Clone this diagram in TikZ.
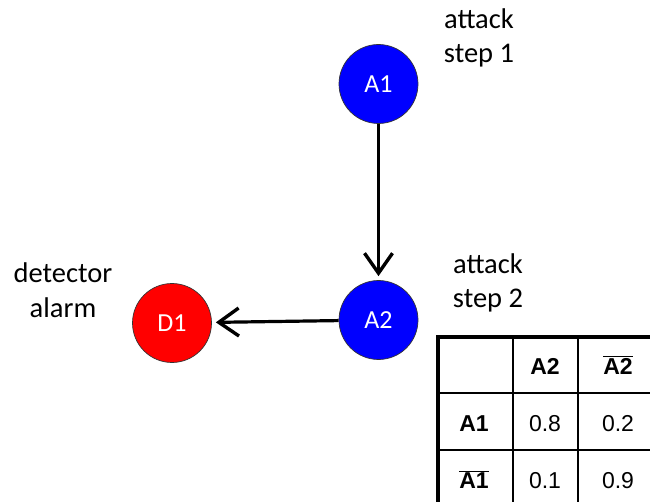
\documentclass[tikz,border=0pt]{standalone}
\usepackage{fontspec}
\setmainfont{Carlito}
\newfontfamily\tablefont{Liberation Sans}
\usetikzlibrary{arrows.meta}

\tikzset{
  bnode/.style={circle, draw=black!80, line width=0.7pt, minimum size=79pt, inner sep=0pt,
    text=white, font=\fontsize{26}{30}\selectfont},
  caption/.style={align=center, anchor=base, inner sep=0pt,
    font=\fontsize{28.5}{34}\selectfont},
  link/.style={line width=3.2pt, -{Straight Barb[length=20pt,width=28pt,line width=3.4pt]}, shorten >=4pt},
  cell/.style={inner sep=0pt, anchor=base, font=\tablefont\fontsize{23}{27}\selectfont},
  thin rule/.style={line width=1.6pt},
  thick rule/.style={line width=3.4pt}
}

\begin{document}
\begin{tikzpicture}[x=1pt, y=-1pt]
  \useasboundingbox (0,0) rectangle (650,502);
  \clip (0,0) rectangle (650,502);

  % Bayesian network nodes
  \node[bnode, fill={rgb,255:red,0;green,0;blue,255}] (A1) at (378.5,84) {A1};
  \node[bnode, fill={rgb,255:red,0;green,0;blue,255}] (A2) at (378.5,320) {A2};
  \node[bnode, fill={rgb,255:red,255;green,0;blue,0}] (D1) at (172,323) {D1};

  % edges
  \draw[link] (A1) -- (A2);
  \draw[link] (A2) -- (D1);

  % captions (anchored at the baseline of the last line)
  \node[caption] (capA1) at (479,63) {attack\\step 1};
  \node[caption] (capA2) at (488,308) {attack\\step 2};
  \node[caption] (capD1) at (63,317) {detector\\alarm};

  % conditional probability table of A2 given A1
  \draw[thin rule] (438,393) -- (660,393);
  \draw[thin rule] (438,450) -- (660,450);
  \draw[thin rule] (513,337) -- (513,510);
  \draw[thin rule] (578,337) -- (578,510);
  \draw[thick rule] (438,510) -- (438,337) -- (660,337);

  \node[cell] (h2) at (545,374) {\textbf{A2}};
  \node[cell] (h3) at (618,374) {$\overline{\mbox{\textbf{A2}}}$};
  \node[cell] (r1) at (474,431) {\textbf{A1}};
  \node[cell] (r2) at (474,488) {$\overline{\mbox{\textbf{A1}}}$};
  \node[cell] (c11) at (545,431) {0.8};
  \node[cell] (c12) at (618,431) {0.2};
  \node[cell] (c21) at (545,488) {0.1};
  \node[cell] (c22) at (618,488) {0.9};
\end{tikzpicture}
\end{document}
